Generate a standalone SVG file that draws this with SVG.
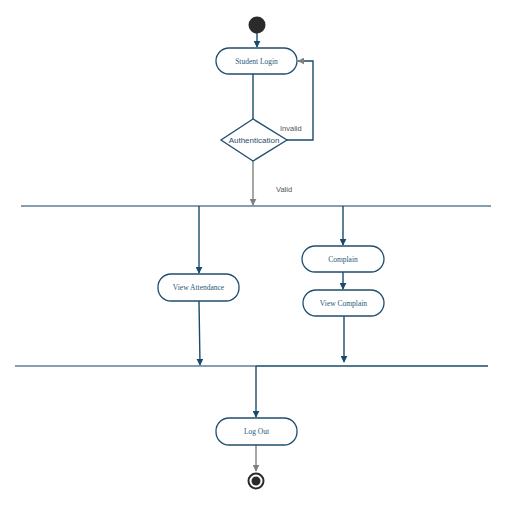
<svg xmlns="http://www.w3.org/2000/svg" width="530" height="508" viewBox="0 0 530 508">
<style>
.node{fill:#fff;stroke:#1f4e6e;stroke-width:1.3}
.lbl{font-family:"Liberation Serif",serif;font-size:7.5px;fill:#2a5878;text-anchor:middle}
.sans{font-family:"Liberation Sans",sans-serif;font-size:7.5px;fill:#555}
.c{fill:none;stroke:#1a4a6b;stroke-width:1.4}
.g{fill:none;stroke:#808080;stroke-width:1.4}
.bar{fill:none;stroke:#5b7f98;stroke-width:1.6}
</style>
<defs>
<marker id="ab" viewBox="0 0 10 10" refX="9" refY="5" markerWidth="5" markerHeight="5" orient="auto"><path d="M0,0L10,5L0,10z" fill="#1a4a6b"/></marker>
<marker id="ag" viewBox="0 0 10 10" refX="9" refY="5" markerWidth="5" markerHeight="5" orient="auto"><path d="M0,0L10,5L0,10z" fill="#808080"/></marker>
</defs>
<rect width="530" height="508" fill="#fff"/>
<g id="connectors">
<path class="c" d="M257,33V47" marker-end="url(#ab)"/>
<path class="c" d="M253,74V119"/>
<path class="c" d="M287,140H313V61H298" marker-end="url(#ag)"/>
<path class="g" d="M253,161V205" marker-end="url(#ag)"/>
<path class="bar" d="M21,206H491"/>
<path class="c" d="M199,206V273" marker-end="url(#ab)"/>
<path class="c" d="M343,206V245" marker-end="url(#ab)"/>
<path class="c" d="M343,272V289" marker-end="url(#ab)"/>
<path class="c" d="M199,301L200,365" marker-end="url(#ab)"/>
<path class="c" d="M344,316V362" marker-end="url(#ab)"/>
<path class="bar" d="M15,366H256"/>
<path class="c" d="M256,366H488"/>
<path class="c" d="M256,366V417" marker-end="url(#ab)"/>
<path class="g" d="M256,445V471" marker-end="url(#ag)"/>
<text class="sans" x="280" y="131">Invalid</text>
<text class="sans" x="276" y="192">Valid</text>
</g>
<g id="start"><circle cx="257" cy="25" r="8.5" fill="#2b2b2b"/></g>
<g id="student-login"><rect class="node" x="216" y="48" width="81" height="26" rx="13"/><text class="lbl" x="256.5" y="64">Student Login</text></g>
<g id="authentication"><path class="node" d="M253,119L287,140L253,161L221,140z"/><text x="254" y="143" style="font-family:'Liberation Sans',sans-serif;font-size:8px;fill:#1f4e6e;text-anchor:middle">Authentication</text></g>
<g id="view-attendance"><rect class="node" x="158" y="274" width="81" height="27" rx="13"/><text class="lbl" x="198.5" y="290">View Attendance</text></g>
<g id="complain"><rect class="node" x="302" y="246" width="82" height="26" rx="13"/><text class="lbl" x="343" y="262">Complain</text></g>
<g id="view-complain"><rect class="node" x="303" y="290" width="81" height="26" rx="13"/><text class="lbl" x="343.5" y="306">View Complain</text></g>
<g id="log-out"><rect class="node" x="216" y="418" width="81" height="27" rx="13"/><text class="lbl" x="256.5" y="434">Log Out</text></g>
<g id="end"><circle cx="256" cy="481" r="7.5" fill="#fff" stroke="#2b2b2b" stroke-width="2"/><circle cx="256" cy="481" r="4.5" fill="#2b2b2b"/></g>
</svg>
